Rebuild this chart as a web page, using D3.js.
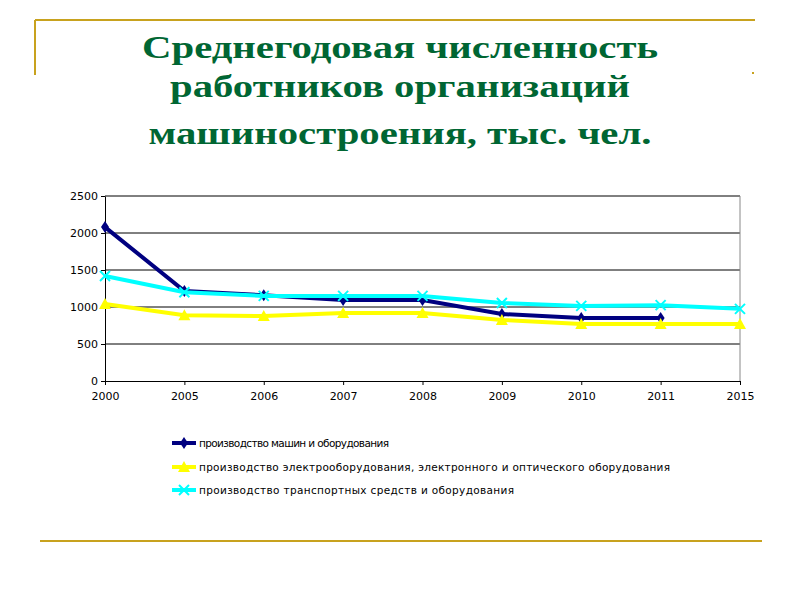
<!DOCTYPE html><html><head><meta charset="utf-8"><script src="https://d3js.org/d3.v7.min.js"></script>
<style>body{margin:0;background:#fff}</style></head><body><svg width="800" height="600"></svg>
<script>
const years=["2000","2005","2006","2007","2008","2009","2010","2011","2015"];
const machines=[2080,1215,1160,1095,1095,905,850,850,null];
const electro=[1040,890,878,918,918,825,770,770,770];
const transport=[1420,1200,1150,1150,1150,1055,1015,1025,975];
const yTicks=[0,500,1000,1500,2000,2500];
const names=["производство машин и оборудования","производство электрооборудования, электронного и оптического оборудования","производство транспортных средств и оборудования"];
const svg=d3.select("svg");
const gold="#c8a21e";
svg.append("line").attr("x1",35).attr("x2",755).attr("y1",20).attr("y2",20).attr("stroke",gold).attr("stroke-width",2);
svg.append("line").attr("x1",35).attr("x2",35).attr("y1",20).attr("y2",75).attr("stroke",gold).attr("stroke-width",2);
svg.append("line").attr("x1",40).attr("x2",762).attr("y1",541).attr("y2",541).attr("stroke",gold).attr("stroke-width",2);
svg.append("rect").attr("x",752).attr("y",72).attr("width",2).attr("height",2).attr("fill",gold);
const tl=["Среднегодовая численность","работников организаций","машиностроения, тыс. чел."];
const tw=[516,460,503];
[58,97,144].forEach((y,i)=>svg.append("text").attr("x",400).attr("y",y).attr("text-anchor","middle").attr("font-family","Liberation Serif").attr("font-weight","bold").attr("font-size",31).attr("fill","#006633").attr("textLength",tw[i]).attr("lengthAdjust","spacingAndGlyphs").text(tl[i]));
const x=d3.scalePoint().domain(years).range([105,740]);
const y=d3.scaleLinear().domain([0,2500]).range([381,196]);
svg.append("g").selectAll("line").data(yTicks.slice(1)).join("line").attr("x1",105).attr("x2",740).attr("y1",d=>y(d)).attr("y2",d=>y(d)).attr("stroke","#000");
svg.append("line").attr("x1",740).attr("x2",740).attr("y1",196).attr("y2",381).attr("stroke","#888");
const ya=svg.append("g").attr("transform","translate(105,0)").call(d3.axisLeft(y).tickValues(yTicks).tickFormat(d3.format("d")).tickSize(4).tickSizeOuter(0));
const xa=svg.append("g").attr("transform","translate(0,381)").call(d3.axisBottom(x).tickSize(4).tickSizeOuter(0));
[ya,xa].forEach(a=>{a.selectAll("text").attr("font-family","DejaVu Sans").attr("font-size",11).attr("fill","#000");a.select(".domain").attr("stroke","#000");});
xa.selectAll("text").attr("dy","1.1em");
const series=[{v:machines,c:"#000080",m:"diamond"},{v:electro,c:"#ffff00",m:"tri"},{v:transport,c:"#00ffff",m:"x"}];
function marker(g,m,c,cx,cy){
 if(m==="diamond")g.append("path").attr("d",`M${cx},${cy-6}L${cx+4},${cy}L${cx},${cy+6}L${cx-4},${cy}Z`).attr("fill",c);
 else if(m==="tri")g.append("path").attr("d",`M${cx},${cy-6}L${cx+6},${cy+5}L${cx-6},${cy+5}Z`).attr("fill",c);
 else g.append("path").attr("d",`M${cx-5},${cy-5}L${cx+5},${cy+5}M${cx+5},${cy-5}L${cx-5},${cy+5}`).attr("stroke",c).attr("stroke-width",2);
}
series.forEach(s=>{
 const pts=years.map((yr,i)=>[yr,s.v[i]]).filter(p=>p[1]!=null);
 svg.append("path").attr("d",d3.line().x(p=>x(p[0])).y(p=>y(p[1]))(pts)).attr("fill","none").attr("stroke",s.c).attr("stroke-width",4);
 const g=svg.append("g");pts.forEach(p=>marker(g,s.m,s.c,x(p[0]),y(p[1])));
});
const lw=[190,471,315];
[443,467,490].forEach((ly,i)=>{
 const s=series[i];
 svg.append("line").attr("x1",172).attr("x2",196).attr("y1",ly).attr("y2",ly).attr("stroke",s.c).attr("stroke-width",4);
 const g=svg.append("g");marker(g,s.m,s.c,184,ly);
 svg.append("text").attr("x",199).attr("y",ly+4).attr("font-family","DejaVu Sans").attr("font-size",10.5).attr("textLength",lw[i]).attr("lengthAdjust","spacing").text(names[i]);
});
</script></body></html>
